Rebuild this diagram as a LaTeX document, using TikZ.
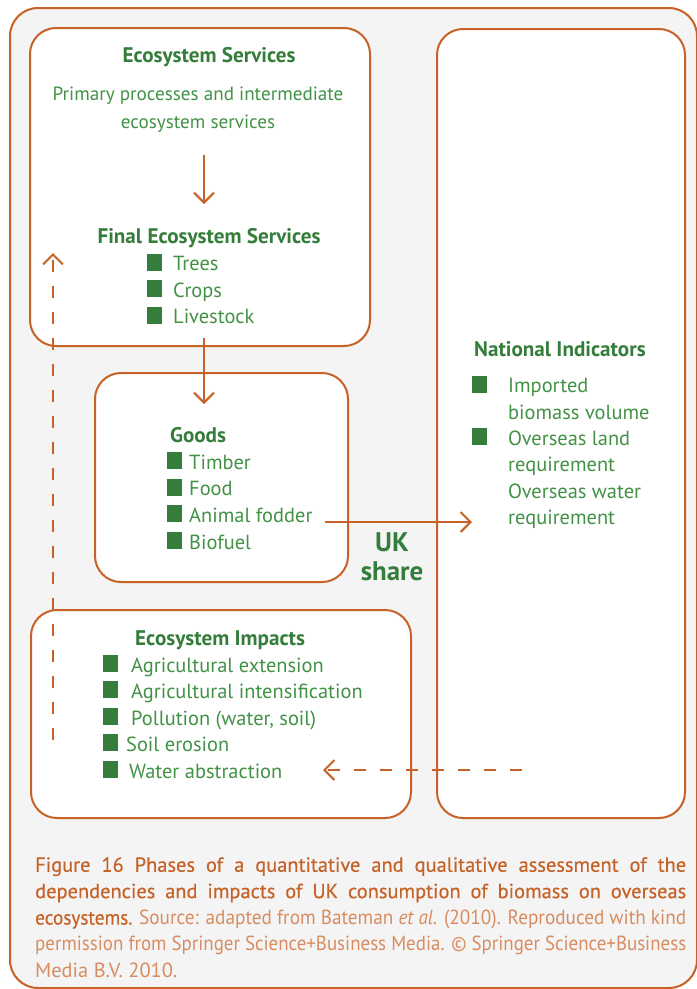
\documentclass[tikz,border=0pt]{standalone}
\usepackage{fontspec}
\usepackage{graphicx}
\setmainfont{PT Sans}
\usetikzlibrary{arrows.meta}
\definecolor{orng}{RGB}{198,98,38}
\definecolor{orngl}{RGB}{216,140,96}
\definecolor{gdark}{RGB}{52,125,58}
\definecolor{gtext}{RGB}{66,146,70}
\definecolor{bgray}{RGB}{244,244,244}
\newsavebox\capbox
\newcommand\capline[1]{\sbox\capbox{#1}\ifdim\wd\capbox>651bp \resizebox{651bp}{\height}{\usebox\capbox}\else\makebox[651bp][s]{#1}\fi}
\newcommand\capdark{\color{orng}\addfontfeature{FakeBold=0.4}}
\tikzset{
  panel/.style={draw=orng, line width=2bp, rounded corners=26bp, fill=white, inner sep=0, anchor=north west},
  conn/.style={draw=orng, line width=2bp, -{Straight Barb[length=10bp,width=20bp,line width=2bp]}},
  dconn/.style={conn, dash pattern=on 12bp off 14bp},
  hdr/.style={font=\fontsize{21.2}{26}\selectfont\bfseries, text=gdark, inner sep=0, anchor=base west},
  hdrc/.style={hdr, anchor=base},
  txt/.style={font=\fontsize{20.5}{26.6}\selectfont, text=gtext, inner sep=0, anchor=base west},
  txtc/.style={txt, anchor=base, font=\fontsize{19.2}{26}\selectfont},
  bul/.style={fill=gdark, minimum width=15bp, minimum height=17bp, inner sep=0, anchor=south west},
  uk/.style={font=\fontsize{27}{29}\selectfont\bfseries, text=gdark, inner sep=0, anchor=base}
}
\begin{document}
\begin{tikzpicture}[x=1bp,y=-1bp]
\useasboundingbox (0,0) rectangle (697,989);
\draw[orng, line width=2bp, fill=bgray, rounded corners=28bp] (10,8) rectangle (697,988);
% panels
\node[panel, minimum width=340bp, minimum height=318bp] (es) at (29,27) {};
\node[panel, minimum width=248bp, minimum height=789bp] (ni) at (436,28) {};
\node[panel, minimum width=253bp, minimum height=209bp] (goods) at (94,372) {};
\node[panel, minimum width=380bp, minimum height=208bp] (imp) at (30,609) {};
% Ecosystem services
\node[hdrc] (esh) at (209,62.5) {Ecosystem Services};
\node[txtc] (prim1) at (198,100) {Primary processes and intermediate};
\node[txtc] (prim2) at (198,128.5) {ecosystem services};
\node[hdrc] (fes) at (209,243) {Final Ecosystem Services};
\node[bul] (fb1) at (147,270.7) {};
\node[bul] (fb2) at (147,297.3) {};
\node[bul] (fb3) at (147,323.9) {};
\node[txt] (ft1) at (173,270.7) {Trees};
\node[txt] (ft2) at (173,297.3) {Crops};
\node[txt] (ft3) at (173,323.9) {Livestock};
% Goods
\node[hdr] (gh) at (170,442) {Goods};
\node[bul] (gb1) at (167,469.3) {};
\node[bul] (gb2) at (167,495.9) {};
\node[bul] (gb3) at (167,522.5) {};
\node[bul] (gb4) at (167,549.1) {};
\node[txt] (gt1) at (189,469.3) {Timber};
\node[txt] (gt2) at (189,495.9) {Food};
\node[txt] (gt3) at (189,522.5) {Animal fodder};
\node[txt] (gt4) at (189,549.1) {Biofuel};
% UK share
\node[uk] (uk1) at (392,551.5) {UK};
\node[uk] (uk2) at (392,580) {share};
% National indicators
\node[hdr] (nih) at (474,356.7) {National Indicators};
\node[bul] (nb1) at (472,392.7) {};
\node[bul] (nb2) at (472,445.5) {};
\node[txt] (nt1) at (508,392.7) {Imported};
\node[txt] (nt2) at (508,419.1) {biomass volume};
\node[txt] (nt3) at (508,445.5) {Overseas land};
\node[txt] (nt4) at (508,471.9) {requirement};
\node[txt] (nt5) at (508,498.3) {Overseas water};
\node[txt] (nt6) at (508,524.7) {requirement};
% Impacts
\node[hdr] (ih) at (135,645) {Ecosystem Impacts};
\node[bul] (ib1) at (103,672) {};
\node[bul] (ib2) at (103,698.5) {};
\node[bul] (ib3) at (103,725) {};
\node[bul] (ib4) at (103,751.5) {};
\node[bul] (ib5) at (103,778) {};
\node[txt] (it1) at (131,672) {Agricultural extension};
\node[txt] (it2) at (131,698.5) {Agricultural intensification};
\node[txt] (it3) at (131,725) {Pollution (water, soil)};
\node[txt] (it4) at (126,751.5) {Soil erosion};
\node[txt] (it5) at (129,778) {Water abstraction};
% connectors
\coordinate (a1s) at (204,155);
\coordinate (a1e) at (204,204);
\coordinate (a2s) at (204,338);
\coordinate (a2e) at (204,404);
\coordinate (a3s) at (325,522);
\coordinate (a3e) at (472,522);
\coordinate (a4s) at (53,740);
\coordinate (a4e) at (53,253);
\coordinate (a5s) at (522,770);
\coordinate (a5e) at (323,770);
\draw[conn] (a1s) -- (a1e);
\draw[conn] (a2s) -- (a2e);
\draw[conn] (a3s) -- (a3e);
\draw[dconn] (a4s) -- (a4e);
\draw[dconn] (a5s) -- (a5e);
% caption
\node[inner sep=0, anchor=north west, align=left, font=\fontsize{20.5}{26.5}\selectfont] (cap) at (35,857) {%
\capline{\capdark Figure 16 Phases of a quantitative and qualitative assessment of the}\\
\capline{\capdark dependencies and impacts of UK consumption of biomass on overseas}\\
\capline{{\capdark ecosystems.} {\color{orngl}Source: adapted from Bateman \textit{et al.} (2010). Reproduced with kind}}\\
\capline{\color{orngl}permission from Springer Science+Business Media. © Springer Science+Business}\\
{\color{orngl}Media B.V. 2010.}};
\end{tikzpicture}
\end{document}
